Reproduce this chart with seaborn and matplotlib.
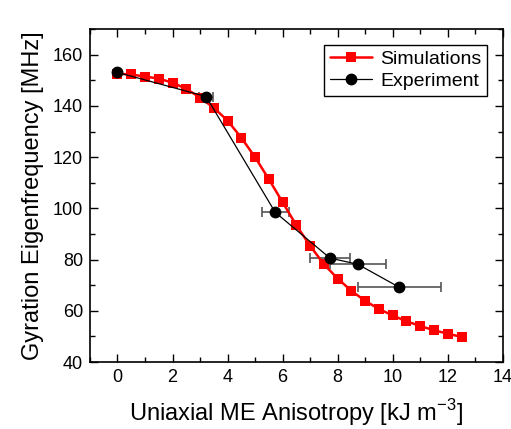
import numpy as np
import pandas as pd
import matplotlib
matplotlib.use('Agg')
import matplotlib.pyplot as plt
from matplotlib.ticker import MultipleLocator
import seaborn as sns

# Simulation data
sim_k = [0, 0.5, 1, 1.5, 2, 2.5, 3, 3.5, 4, 4.5, 5, 5.5, 6, 6.5, 7, 7.5,
         8, 8.5, 9, 9.5, 10, 10.5, 11, 11.5, 12, 12.5]
sim_f = [152.6, 152.3, 151.5, 150.7, 149.1, 146.7, 143.3, 139.3, 134.3, 127.6,
         120.0, 111.4, 102.4, 93.4, 85.4, 78.2, 72.6, 67.8, 63.9, 60.7,
         58.2, 55.9, 54.1, 52.4, 51.1, 49.8]

# Experimental data
exp_k = [0.0, 3.22, 5.73, 7.72, 8.73, 10.24]
exp_f = [153.1, 143.7, 98.5, 80.6, 78.2, 69.2]
exp_kerr = [0.0, 0.25, 0.49, 0.74, 1.02, 1.51]

sns.set_style('ticks')
plt.rcParams['font.family'] = ['Liberation Sans', 'DejaVu Sans']
plt.rcParams['text.color'] = 'black'
plt.rcParams['axes.labelcolor'] = 'black'
plt.rcParams['mathtext.fontset'] = 'custom'
plt.rcParams['mathtext.rm'] = 'Liberation Sans'

fig = plt.figure(figsize=(5.11, 4.29), dpi=100)
ax = fig.add_axes([0.176, 0.156, 0.808, 0.776])

sim = pd.DataFrame({'k': sim_k, 'f': sim_f})
exp = pd.DataFrame({'k': exp_k, 'f': exp_f})

ax.errorbar(exp_k, exp_f, xerr=exp_kerr, fmt='none', ecolor='#555555',
            elinewidth=1.2, capsize=3.5, capthick=1.2, zorder=2)
sns.lineplot(data=sim, x='k', y='f', ax=ax, color='red', linewidth=1.8,
             marker='s', markersize=7.5, markeredgewidth=0,
             label='Simulations', zorder=3)
sns.lineplot(data=exp, x='k', y='f', ax=ax, color='black', linewidth=0.9,
             marker='o', markersize=8.5, markeredgewidth=0,
             label='Experiment', zorder=4)

ax.set_xlim(-1, 14)
ax.set_ylim(40, 170)
ax.xaxis.set_major_locator(MultipleLocator(2))
ax.xaxis.set_minor_locator(MultipleLocator(1))
ax.yaxis.set_major_locator(MultipleLocator(20))
ax.yaxis.set_minor_locator(MultipleLocator(10))
ax.tick_params(which='both', direction='in', top=True, right=True,
               width=1, colors='black', labelsize=13)
ax.tick_params(which='major', length=6, pad=5)
ax.tick_params(which='minor', length=3.5)
for s in ax.spines.values():
    s.set_linewidth(1.2)
    s.set_color('black')

ax.set_xlabel('Uniaxial ME Anisotropy [kJ m$^{\\mathregular{-3}}$]',
              fontsize=17, labelpad=8)
ax.set_ylabel('Gyration Eigenfrequency [MHz]', fontsize=17, labelpad=6)

leg = ax.legend(loc='upper right', fontsize=14, frameon=True, fancybox=False,
                edgecolor='black', framealpha=1, borderaxespad=0.8,
                handlelength=2.2, borderpad=0.3, labelspacing=0.2,
                handletextpad=0.4)
leg.get_frame().set_linewidth(1.0)

fig.savefig('out.png', dpi=100)
